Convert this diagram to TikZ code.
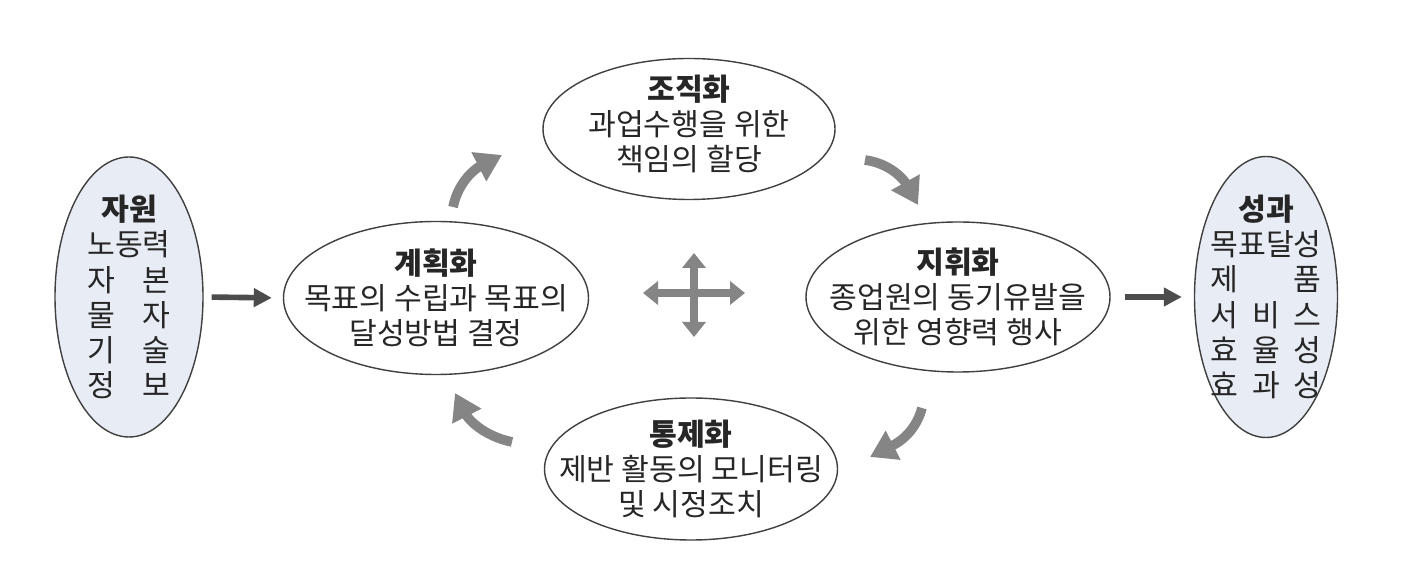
\documentclass[tikz,border=0pt]{standalone}
\usepackage{fontspec}
\usepackage{calc}
\setmainfont{Noto Sans CJK KR}
\usetikzlibrary{arrows.meta,shapes.geometric}
\definecolor{sidefill}{HTML}{E8ECF4}
\definecolor{halftone}{HTML}{858585}
\newcommand\spreadrow[2]{\makebox[\widthof{#1}][s]{#2}}

\begin{document}
\begin{tikzpicture}[>=Stealth, font=\fontsize{17.2}{20}\selectfont, text=black!85,
    oval/.style={draw=black!75, line width=0.8pt, ellipse, fill=white, inner sep=0pt},
    sideoval/.style={oval, fill=sidefill},
    txt/.style={align=center, inner sep=0pt},
    flow/.style={draw=black!70, line width=3.2pt, -{Triangle[length=0.36cm, width=0.36cm]}},
    turn/.style={draw=halftone, line width=5.5pt, -{Triangle[length=0.52cm, width=0.62cm]}},
    cross/.style={draw=halftone, line width=4.2pt, {Triangle[length=0.3cm, width=0.46cm]}-{Triangle[length=0.3cm, width=0.46cm]}}]
    \useasboundingbox[fill=white] (0,0) rectangle (28.52,-11.56);
    % ovals
    \node[sideoval, minimum width=2.96cm, minimum height=5.6cm] (jawon) at (2.58,-5.94) {};
    \node[oval, minimum width=6.1cm, minimum height=3.06cm] (plan) at (8.72,-5.96) {};
    \node[oval, minimum width=5.84cm, minimum height=2.82cm] (org) at (13.78,-2.58) {};
    \node[oval, minimum width=6.08cm, minimum height=3.0cm] (lead) at (19.16,-5.94) {};
    \node[oval, minimum width=5.86cm, minimum height=2.84cm] (ctrl) at (13.82,-9.38) {};
    \node[sideoval, minimum width=2.86cm, minimum height=5.62cm] (seong) at (25.32,-5.94) {};
    % texts
    \node[txt] (jawon_t) at (jawon) {\textbf{자원}\\노동력\\\spreadrow{노동력}{자\hfil 본}\\\spreadrow{노동력}{물\hfil 자}\\\spreadrow{노동력}{기\hfil 술}\\\spreadrow{노동력}{정\hfil 보}};
    \node[txt] (plan_t) at (plan) {\textbf{계획화}\\목표의 수립과 목표의\\달성방법 결정};
    \node[txt] (org_t) at ([yshift=0.1cm]org.center) {\textbf{조직화}\\과업수행을 위한\\책임의 할당};
    \node[txt] (lead_t) at (lead) {\textbf{지휘화}\\종업원의 동기유발을\\위한 영향력 행사};
    \node[txt] (ctrl_t) at (ctrl) {\textbf{통제화}\\제반 활동의 모니터링\\및 시정조치};
    \node[txt] (seong_t) at (seong) {\textbf{성과}\\목표달성\\\spreadrow{목표달성}{제\hfil 품}\\\spreadrow{목표달성}{서\hfil 비\hfil 스}\\\spreadrow{목표달성}{효\hfil 율\hfil 성}\\\spreadrow{목표달성}{효\hfil 과\hfil 성}};
    % straight arrows
    \draw[flow, shorten <=0.16cm, shorten >=0.22cm] (jawon.east) -- (plan.west);
    \draw[flow, shorten <=0.28cm, shorten >=0.24cm] (lead.east) -- (seong.west);
    % turning arrows
    \coordinate (ul_a) at (9.06,-4.14);  \coordinate (ul_b) at (10.04,-3.10);
    \coordinate (ur_a) at (17.30,-3.20); \coordinate (ur_b) at (18.36,-4.10);
    \coordinate (lr_a) at (18.44,-8.16); \coordinate (lr_b) at (17.40,-9.14);
    \coordinate (ll_a) at (10.24,-8.84); \coordinate (ll_b) at (9.10,-7.86);
    \draw[turn] (ul_a) to[out=78, in=207] (ul_b);
    \draw[turn] (ur_a) to[out=-8, in=119] (ur_b);
    \draw[turn] (lr_a) to[out=-105, in=27] (lr_b);
    \draw[turn] (ll_a) to[out=168, in=-63] (ll_b);
    % centre cross
    \coordinate (cx_w) at (12.86,-5.86); \coordinate (cx_e) at (14.90,-5.86);
    \coordinate (cx_n) at (13.88,-5.06); \coordinate (cx_s) at (13.88,-6.74);
    \draw[cross] (cx_w) -- (cx_e);
    \draw[cross] (cx_n) -- (cx_s);
\end{tikzpicture}
\end{document}
